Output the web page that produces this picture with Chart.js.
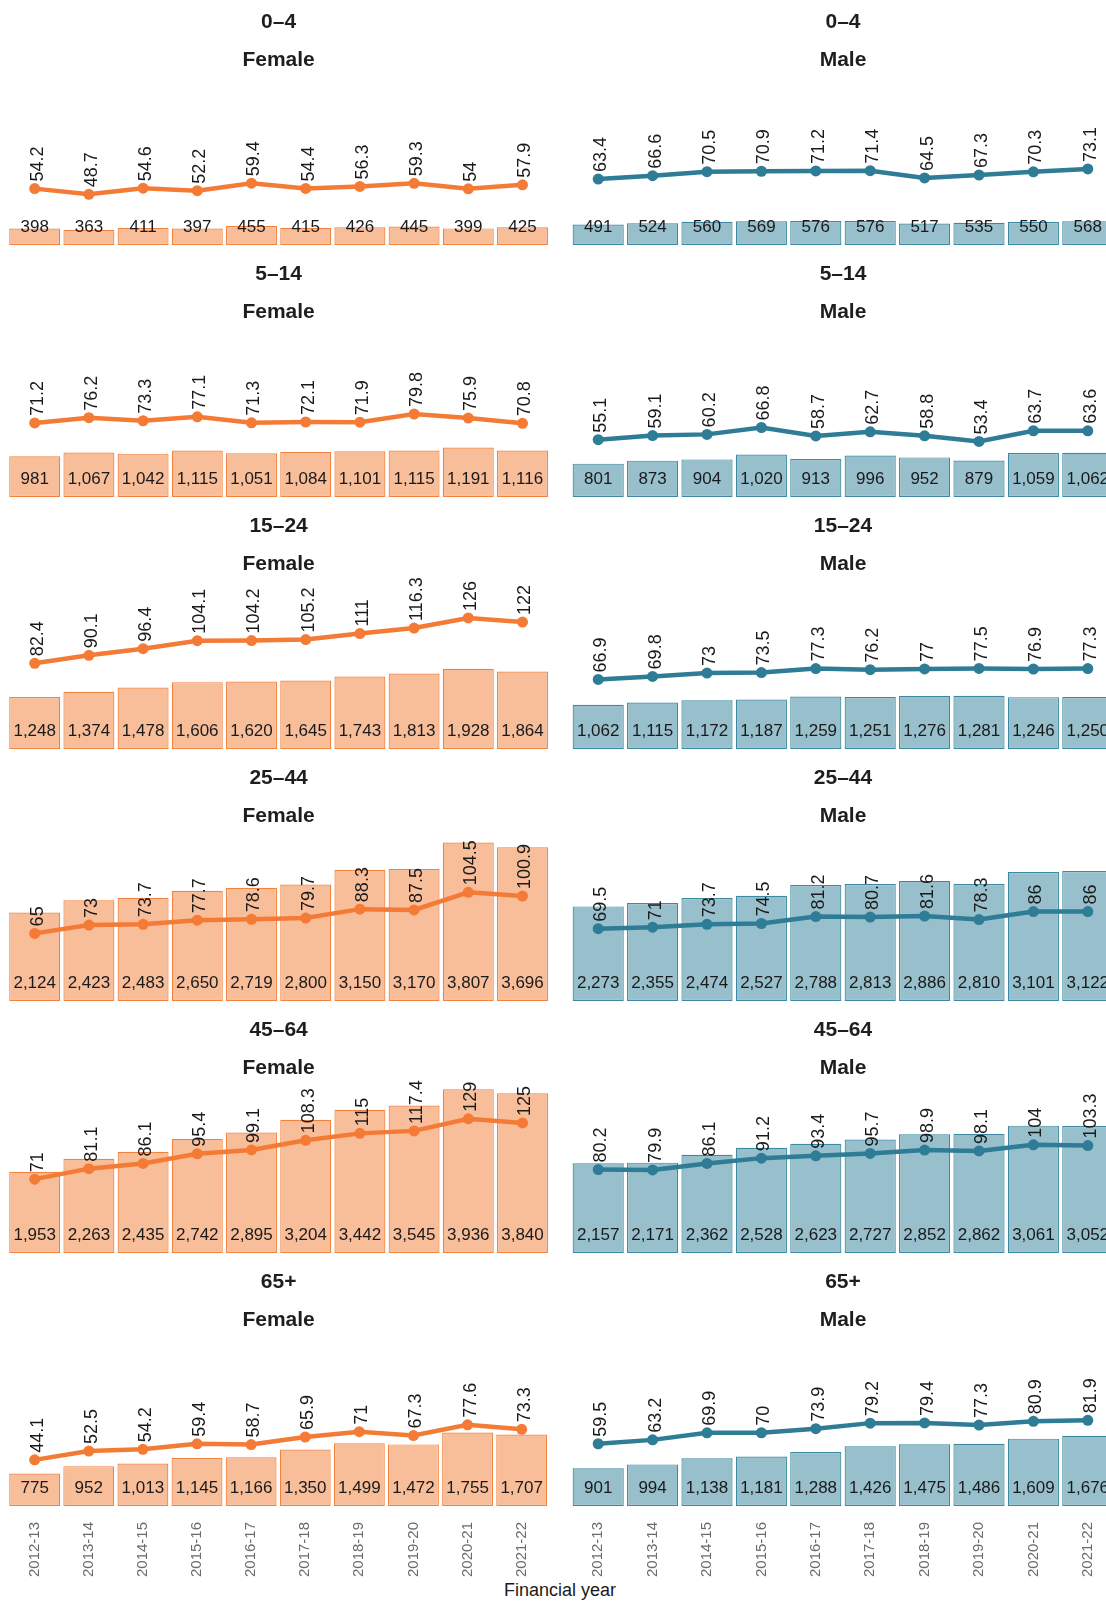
<!DOCTYPE html>
<html>
<head>
<meta charset="utf-8">
<script src="https://cdn.jsdelivr.net/npm/chart.js@4.4.1/dist/chart.umd.min.js"></script>
<style>
  html, body { margin: 0; padding: 0; background: #fff; width: 1106px; height: 1601px; overflow: hidden; }
  .panel { position: absolute; }
  #xtitle { position: absolute; left: 410px; width: 300px; top: 1580px; text-align: center;
            font: 18px "Liberation Sans", Arial, sans-serif; color: #1a1a1a; }
</style>
</head>
<body>
<div id="xtitle">Financial year</div>
<script>
// Financial years shown on the x axis
const years = ['2012-13','2013-14','2014-15','2015-16','2016-17','2017-18','2018-19','2019-20','2020-21','2021-22'];
const ageGroups = ['0–4','5–14','15–24','25–44','45–64','65+'];

// Female: number of people (bars) and rate per 100,000 (line)
const femaleCounts0to4   = [398, 363, 411, 397, 455, 415, 426, 445, 399, 425];
const femaleRates0to4    = [54.2, 48.7, 54.6, 52.2, 59.4, 54.4, 56.3, 59.3, 54, 57.9];
const femaleCounts5to14  = [981, 1067, 1042, 1115, 1051, 1084, 1101, 1115, 1191, 1116];
const femaleRates5to14   = [71.2, 76.2, 73.3, 77.1, 71.3, 72.1, 71.9, 79.8, 75.9, 70.8];
const femaleCounts15to24 = [1248, 1374, 1478, 1606, 1620, 1645, 1743, 1813, 1928, 1864];
const femaleRates15to24  = [82.4, 90.1, 96.4, 104.1, 104.2, 105.2, 111, 116.3, 126, 122];
const femaleCounts25to44 = [2124, 2423, 2483, 2650, 2719, 2800, 3150, 3170, 3807, 3696];
const femaleRates25to44  = [65, 73, 73.7, 77.7, 78.6, 79.7, 88.3, 87.5, 104.5, 100.9];
const femaleCounts45to64 = [1953, 2263, 2435, 2742, 2895, 3204, 3442, 3545, 3936, 3840];
const femaleRates45to64  = [71, 81.1, 86.1, 95.4, 99.1, 108.3, 115, 117.4, 129, 125];
const femaleCounts65plus = [775, 952, 1013, 1145, 1166, 1350, 1499, 1472, 1755, 1707];
const femaleRates65plus  = [44.1, 52.5, 54.2, 59.4, 58.7, 65.9, 71, 67.3, 77.6, 73.3];

// Male: number of people (bars) and rate per 100,000 (line)
const maleCounts0to4   = [491, 524, 560, 569, 576, 576, 517, 535, 550, 568];
const maleRates0to4    = [63.4, 66.6, 70.5, 70.9, 71.2, 71.4, 64.5, 67.3, 70.3, 73.1];
const maleCounts5to14  = [801, 873, 904, 1020, 913, 996, 952, 879, 1059, 1062];
const maleRates5to14   = [55.1, 59.1, 60.2, 66.8, 58.7, 62.7, 58.8, 53.4, 63.7, 63.6];
const maleCounts15to24 = [1062, 1115, 1172, 1187, 1259, 1251, 1276, 1281, 1246, 1250];
const maleRates15to24  = [66.9, 69.8, 73, 73.5, 77.3, 76.2, 77, 77.5, 76.9, 77.3];
const maleCounts25to44 = [2273, 2355, 2474, 2527, 2788, 2813, 2886, 2810, 3101, 3122];
const maleRates25to44  = [69.5, 71, 73.7, 74.5, 81.2, 80.7, 81.6, 78.3, 86, 86];
const maleCounts45to64 = [2157, 2171, 2362, 2528, 2623, 2727, 2852, 2862, 3061, 3052];
const maleRates45to64  = [80.2, 79.9, 86.1, 91.2, 93.4, 95.7, 98.9, 98.1, 104, 103.3];
const maleCounts65plus = [901, 994, 1138, 1181, 1288, 1426, 1475, 1486, 1609, 1676];
const maleRates65plus  = [59.5, 63.2, 69.9, 70, 73.9, 79.2, 79.4, 77.3, 80.9, 81.9];

const femaleCounts = [femaleCounts0to4, femaleCounts5to14, femaleCounts15to24, femaleCounts25to44, femaleCounts45to64, femaleCounts65plus];
const femaleRates  = [femaleRates0to4, femaleRates5to14, femaleRates15to24, femaleRates25to44, femaleRates45to64, femaleRates65plus];
const maleCounts   = [maleCounts0to4, maleCounts5to14, maleCounts15to24, maleCounts25to44, maleCounts45to64, maleCounts65plus];
const maleRates    = [maleRates0to4, maleRates5to14, maleRates15to24, maleRates25to44, maleRates45to64, maleRates65plus];

// Shared axis ranges: the rate axis is the count axis divided by 25
const COUNT_MAX = 4100;
const RATE_MAX = COUNT_MAX / 25;

const FONT = '"Liberation Sans", Arial, Helvetica, sans-serif';
const STYLE = {
  Female: { barFill: '#f8bd99', barEdge: '#f3823f', line: '#f47b36' },
  Male:   { barFill: '#97bfcc', barEdge: '#3b89a2', line: '#2e7c96' }
};

// Count labels near the base of each bar, rotated rate labels above each point
const valueLabels = {
  id: 'valueLabels',
  afterDatasetsDraw(chart) {
    const ctx = chart.ctx;
    const lineMeta = chart.getDatasetMeta(0);
    const barMeta = chart.getDatasetMeta(1);
    const rates = chart.data.datasets[0].data;
    const counts = chart.data.datasets[1].data;
    ctx.save();
    ctx.fillStyle = '#1a1a1a';
    ctx.font = '17px ' + FONT;
    ctx.textAlign = 'center';
    ctx.textBaseline = 'middle';
    barMeta.data.forEach((bar, i) => {
      ctx.fillText(counts[i].toLocaleString('en-US'), bar.x, chart.chartArea.bottom - 18);
    });
    ctx.font = '18px ' + FONT;
    lineMeta.data.forEach((pt, i) => {
      ctx.save();
      ctx.translate(pt.x + 3, pt.y - 7);
      ctx.rotate(-Math.PI / 2);
      ctx.textAlign = 'left';
      ctx.textBaseline = 'middle';
      ctx.fillText(String(rates[i]), 0, 0);
      ctx.restore();
    });
    ctx.restore();
  }
};

const ROW_PITCH = 252;
const COLS = [
  { sex: 'Female', left: 0,   width: 556, padL: 7.6, padR: 6.4, counts: femaleCounts, rates: femaleRates },
  { sex: 'Male',   left: 556, width: 574, padL: 15,  padR: 15,  counts: maleCounts,   rates: maleRates }
];

ageGroups.forEach((age, r) => {
  const last = r === ageGroups.length - 1;
  COLS.forEach(col => {
    const top = r * ROW_PITCH;
    const height = last ? 1601 - top : ROW_PITCH;
    const canvas = document.createElement('canvas');
    canvas.className = 'panel';
    canvas.style.left = col.left + 'px';
    canvas.style.top = top + 'px';
    canvas.style.width = col.width + 'px';
    canvas.style.height = height + 'px';
    canvas.width = col.width;
    canvas.height = height;
    document.body.appendChild(canvas);
    const st = STYLE[col.sex];

    new Chart(canvas, {
      type: 'bar',
      data: {
        labels: years,
        datasets: [
          {
            type: 'line', data: col.rates[r], yAxisID: 'yRate', order: 0,
            borderColor: st.line, backgroundColor: st.line, borderWidth: 4.5,
            pointRadius: 5.5, pointBorderWidth: 0, pointBackgroundColor: st.line,
            tension: 0, clip: false
          },
          {
            type: 'bar', data: col.counts[r], yAxisID: 'yCount', order: 1,
            backgroundColor: st.barFill, borderColor: st.barEdge, borderWidth: 1.2,
            borderSkipped: false,
            barPercentage: 0.94, categoryPercentage: 1.0
          }
        ]
      },
      options: {
        responsive: false,
        animation: false,
        events: [],
        layout: { padding: { left: col.padL, right: col.padR, top: 0, bottom: last ? 15 : 7 } },
        scales: {
          x: {
            display: last,
            offset: true,
            grid: { display: false, drawTicks: false },
            border: { display: false },
            ticks: { minRotation: 90, maxRotation: 90, autoSkip: false, padding: 16,
                     color: '#6b6b6b', font: { family: FONT, size: 15 } },
            afterFit(scale) { if (last) scale.height = 80; }
          },
          yCount: { display: false, min: 0, max: COUNT_MAX },
          yRate: { display: false, min: 0, max: RATE_MAX }
        },
        plugins: {
          legend: { display: false },
          tooltip: { enabled: false },
          title: {
            display: true, text: age, color: '#1e1e1e',
            font: { family: FONT, size: 21, weight: 'bold', lineHeight: 1.2 },
            padding: { top: 10, bottom: 12 }
          },
          subtitle: {
            display: true, text: col.sex, color: '#1e1e1e',
            font: { family: FONT, size: 21, weight: 'bold', lineHeight: 1.2 },
            padding: { top: 0, bottom: 2 }
          }
        }
      },
      plugins: [valueLabels]
    });
  });
});
</script>
</body>
</html>
